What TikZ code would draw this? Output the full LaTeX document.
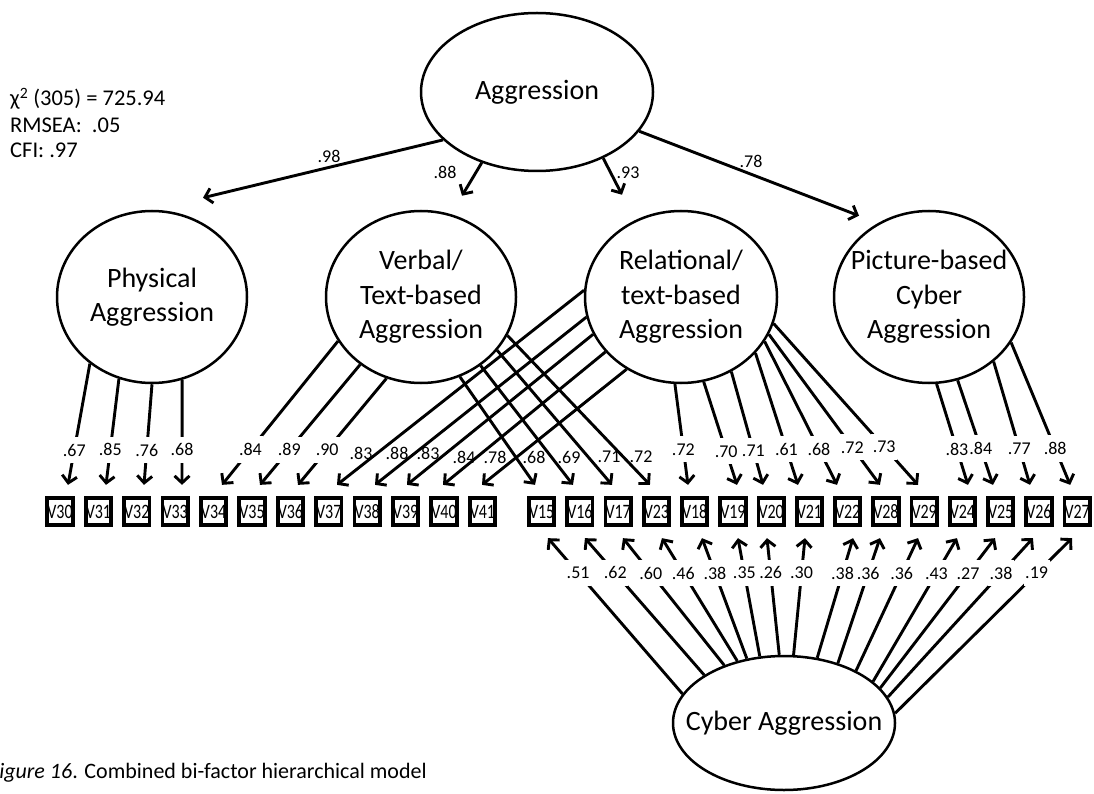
\documentclass[tikz,border=0pt]{standalone}
\usepackage{fontspec}
\usepackage{graphicx}
\setmainfont{Carlito}
\usetikzlibrary{shapes.geometric,arrows.meta}
\newcommand\vlab[1]{\scalebox{0.78}[1]{#1}}
\tikzset{
  lv/.style={ellipse, draw, line width=2.5pt, align=center, inner xsep=-80pt, inner ysep=-40pt,
             font=\fontsize{28}{34.5}\selectfont},
  ov/.style={draw, line width=3.8pt, minimum width=25pt, minimum height=27.5pt,
             inner sep=0pt, font=\fontsize{20.5}{20}\selectfont},
  ld/.style={line width=2.9pt, -{Straight Barb[length=7pt,width=15pt]}},
  lab/.style={fill=white, font=\fontsize{18}{18}\selectfont, inner xsep=1.5pt, inner ysep=7pt},
  labx/.style={font=\fontsize{18}{18}\selectfont, inner sep=1pt},
  stat/.style={anchor=base west, inner sep=0pt, font=\fontsize{22.5}{26}\selectfont}
}
\begin{document}
\begin{tikzpicture}[x=1pt,y=-1pt]
\useasboundingbox[fill=white] (0,0) rectangle (1094,794);

% fit statistics
\node[stat] (s1) at (10,106) {χ\textsuperscript{2} (305) = 725.94};
\node[stat] (s2) at (10,133) {RMSEA:\ \ .05};
\node[stat] (s3) at (10,158) {CFI: .97};

% latent variables
\node[lv, minimum width=232pt, minimum height=158pt] (agg) at (537,92) {Aggression};
\node[lv, minimum width=190pt, minimum height=172pt] (phys) at (152,297) {Physical\\Aggression};
\node[lv, minimum width=190pt, minimum height=172pt] (verb) at (421,297) {Verbal/\\Text-based\\Aggression};
\node[lv, minimum width=192pt, minimum height=172pt] (rel) at (681,297) {Relational/\\text-based\\Aggression};
\node[lv, minimum width=190pt, minimum height=172pt] (pict) at (929,297) {Picture-based\\Cyber\\Aggression};
\node[lv, minimum width=222pt, minimum height=134pt] (cyb) at (784,723) {Cyber Aggression};

% observed variables
\foreach \n [count=\i from 0] in {30,31,32,33,34,35,36,37,38,39,40,41}
  \node[ov] (v\n) at ({60+38.4*\i},511.5) {\vlab{V\n}};
\foreach \n [count=\i from 0] in {15,16,17,23,18,19,20,21,22,28,29,24,25,26,27}
  \node[ov] (v\n) at ({541.7+38.25*\i},511.5) {\vlab{V\n}};

% second-order loadings
\draw[ld] (agg.207.3) -- ([xshift=51pt,yshift=12pt]phys.north);
\draw[ld] (agg.232.4) -- ([xshift=41pt,yshift=14pt]verb.north);
\draw[ld] (agg.315)   -- ([xshift=-59pt,yshift=15pt]rel.north);
\draw[ld] (agg.339.4) -- ([xshift=-70pt,yshift=-6pt]pict.north);
\node[labx] (g1) at (329,156) {.98};
\node[labx] (g2) at (445,172) {.88};
\node[labx] (g3) at (628,173) {.93};
\node[labx] (g4) at (751,161) {.78};

% first-order loadings, label set in the line
\foreach \f/\a/\b/\d/\p/\t in {
  phys/227.3/30/8/0.713/.67, phys/248.4/31/7.6/0.67/.85, phys/270/32/7.2/0.657/.76,
  phys/290.1/33/6.8/0.667/.68,
  verb/208.2/34/8.4/0.755/.84, verb/228.2/35/8/0.708/.89, verb/247.2/36/7.6/0.67/.90,
  rel/266/18/-6.7/0.647/.72, rel/285.9/19/4/0.675/.70, rel/304/20/-8.2/0.696/.71,
  rel/323.8/21/-11.5/0.728/.61, rel/332.9/22/-10.7/0.75/.68, rel/337.4/28/-6/0.751/.72,
  rel/344.1/29/-6.2/0.766/.73,
  pict/275.4/24/5.5/0.647/.83, pict/289.3/25/-7.7/0.654/.84, pict/315.9/26/-9/0.707/.77,
  pict/331.8/27/-7/0.746/.88}
  \draw[ld] (\f.\a) -- ([xshift=\d pt,yshift=11pt]v\b.north) node[lab,pos=\p] {\t};

% first-order loadings crossing each other, label beside the line
\foreach \f/\a/\b/\d in {
  verb/296.9/15/-6.7, verb/311.8/16/-7, verb/325/17/-6.2, verb/336.6/23/-6.5,
  rel/176.4/37/8.2, rel/192.1/38/7.8, rel/203.3/39/1.4, rel/216.5/40/-1, rel/233.6/41/-0.4}
  \draw[ld] (\f.\a) -- ([xshift=\d pt,yshift=11pt]v\b.north);
\foreach \x/\y/\t [count=\k] in {361/453/.83, 397/453/.88, 428/453/.83, 464/457/.84,
  495/457/.78, 534/457/.68, 569/457/.69, 609/457/.71, 641/457/.72}
  \node[labx] (x\k) at (\x,\y) {\t};

% general cyber factor loadings
\foreach \a/\b/\d/\p/\t in {
  164.4/15/6.3/0.776/.51, 149.8/16/5/0.746/.62, 136/17/4.8/0.725/.60,
  127/23/5.5/0.716/.46, 120.2/18/7.3/0.711/.38, 110.7/19/5/0.705/.35,
  94.2/20/-4.2/0.702/.26, 82.4/21/-4.5/0.702/.30, 63.8/22/5.3/0.708/.38,
  48.8/28/-6/0.72/.36, 36/29/-6.2/0.737/.36, 25.4/24/-5.5/0.755/.43,
  20.8/25/-5.7/0.765/.27, 14.3/26/-6/0.78/.38, 5.3/27/-5.2/0.8/.19}
  \draw[ld] (cyb.\a) -- ([xshift=\d pt,yshift=-11pt]v\b.south) node[lab,pos=\p] {\t};

% caption
\node[anchor=base west, inner sep=0pt, font=\fontsize{22}{24}\selectfont] (cap) at (-11,778)
  {\textit{Figure 16}. Combined bi-factor hierarchical model};
\end{tikzpicture}
\end{document}
